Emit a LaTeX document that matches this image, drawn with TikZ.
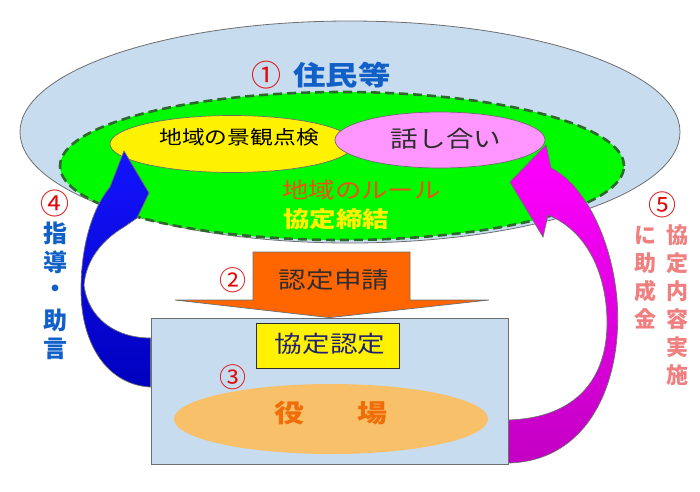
\documentclass[tikz,border=0pt]{standalone}
\usepackage{fontspec}
\setmainfont{Noto Sans CJK JP}
\usetikzlibrary{shapes.geometric}
\definecolor{skyfill}{RGB}{200,220,240}
\definecolor{grn}{RGB}{0,250,0}
\definecolor{dgreen}{RGB}{45,105,45}
\definecolor{pinkfill}{RGB}{255,150,255}
\definecolor{resblue}{RGB}{16,96,200}
\definecolor{numred}{RGB}{225,10,10}
\definecolor{rulered}{RGB}{245,75,20}
\definecolor{arrorange}{RGB}{255,102,0}
\definecolor{navy}{RGB}{30,30,120}
\definecolor{ovalorange}{RGB}{248,192,104}
\definecolor{yakuorange}{RGB}{240,110,10}
\definecolor{coraltxt}{RGB}{240,128,128}
\definecolor{edgegray}{RGB}{110,110,110}
\definecolor{darktxt}{RGB}{45,45,45}
\newcommand{\wx}[1]{\scalebox{1.2}[1]{#1}}
\newcommand{\fsz}[1]{\fontsize{#1}{#1}\selectfont}
\begin{document}
\begin{tikzpicture}[x=1pt,y=-1pt,
  oval/.style={ellipse, inner sep=0pt},
  txt/.style={inner sep=0pt},
  numlabel/.style={txt, text=numred},
  ribbon/.style={draw=edgegray, line width=0.7pt}]
\useasboundingbox (0,0) rectangle (700,491);
\fill[white] (0,0) rectangle (700,491);

% residents ellipse
\node[oval, draw=edgegray, fill=skyfill, line width=0.8pt, minimum width=660, minimum height=222] (res) at (350,132) {};
\node[oval, fill=grn, draw=dgreen, line width=2.6pt, dash pattern=on 9pt off 5pt, minimum width=564, minimum height=148] (rule) at (342,166) {};
\node[oval, draw=edgegray, fill=yellow, line width=0.7pt, minimum width=244, minimum height=57] (check) at (232,144) {};
\node[oval, draw=edgegray, fill=pinkfill, line width=0.7pt, minimum width=210, minimum height=56] (talk) at (440,140) {};

\node[numlabel, font=\fsz{30}] (n1) at (266,75) {①};
\node[txt, text=resblue, font=\fsz{27}\bfseries] (jumin) at (342,75) {\wx{住民等}};
\node[txt, text=black, font=\fsz{19}] (checkt) at (239,137) {\wx{地域の景観点検}};
\node[txt, text=darktxt, font=\fsz{23}] (talkt) at (446,139) {\wx{話し合い}};
\node[txt, text=rulered, font=\fsz{22}, anchor=west] (rulet) at (282,190) {\wx{地域のルール}};
\node[txt, text=yellow, font=\fsz{22}\bfseries, anchor=west] (sign) at (283,219) {\wx{協定締結}};

% office box
\node[draw=edgegray, fill=skyfill, line width=0.8pt, minimum width=357, minimum height=146, inner sep=0pt] (office) at (329.5,391) {};
\node[draw=darktxt, fill=yellow, line width=0.8pt, minimum width=143, minimum height=45, inner sep=0pt] (cert) at (327.5,345.5) {};
\node[txt, text=navy, font=\fsz{23}] (certt) at (330,344) {\wx{協定認定}};
\node[numlabel, font=\fsz{27}] (n3) at (233,377) {③};
\node[oval, fill=ovalorange, minimum width=314, minimum height=70] (yakuba) at (331,419) {};
\node[txt, text=yakuorange, font=\fsz{25}\bfseries] (yaku) at (289,413) {\wx{役}};
\node[txt, text=yakuorange, font=\fsz{25}\bfseries] (ba) at (372,413) {\wx{場}};

% application arrow
\draw[draw=edgegray, fill=arrorange, line width=0.7pt]
  (253,252) -- (410,252) -- (410,300) -- (489,300) -- (office.north) -- (175,300) -- (253,300) -- cycle;
\node[numlabel, font=\fsz{27}] (n2) at (233,280) {②};
\node[txt, text=darktxt, font=\fsz{23}] (appt) at (334,280) {\wx{認定申請}};

% blue guidance arrow
\coordinate (btip) at (124,151);
\shadedraw[ribbon, top color={rgb,255:red,20;green,20;blue,255}, bottom color={rgb,255:red,0;green,0;blue,190}]
  (btip) -- (149,193) -- (137,218) -- (124,227)
  .. controls (102,240) and (86,260) .. (84,285)
  .. controls (88,318) and (115,338) .. (office.west |- 0,338)
  -- (office.west |- 0,387)
  .. controls (108,385) and (81,345) .. (81,290)
  .. controls (81,240) and (95,205) .. (110,187) -- cycle;

% magenta subsidy arrow
\coordinate (mtip) at (546,145);
\shadedraw[ribbon, top color={rgb,255:red,255;green,0;blue,255}, bottom color={rgb,255:red,195;green,0;blue,195}]
  (mtip) -- (551,168)
  .. controls (585,185) and (612,240) .. (617,300)
  .. controls (623,380) and (590,461) .. (office.east |- 0,463)
  -- (office.east |- 0,420)
  .. controls (575,418) and (608,380) .. (607,320)
  .. controls (606,270) and (585,230) .. (548,215)
  -- (543,237) -- (510,182) -- cycle;

% side labels left
\node[numlabel, font=\fsz{29}] (n4) at (55,203) {④};
\foreach \c [count=\i] in {指,導,・,助,言}
  \node[txt, text=resblue, font=\fsz{24}\bfseries] (g\i) at (55,{233+29*(\i-1)}) {\c};

% side labels right
\node[numlabel, font=\fsz{28}] (n5) at (662,205) {⑤};
\foreach \c [count=\i] in {協,定,内,容,実,施}
  \node[txt, text=coraltxt, font=\fsz{22}\bfseries] (r\i) at (677,{235+28*(\i-1)}) {\c};
\foreach \c [count=\i] in {に,助,成,金}
  \node[txt, text=coraltxt, font=\fsz{22}\bfseries] (l\i) at (645,{235+28*(\i-1)}) {\c};
\end{tikzpicture}
\end{document}
